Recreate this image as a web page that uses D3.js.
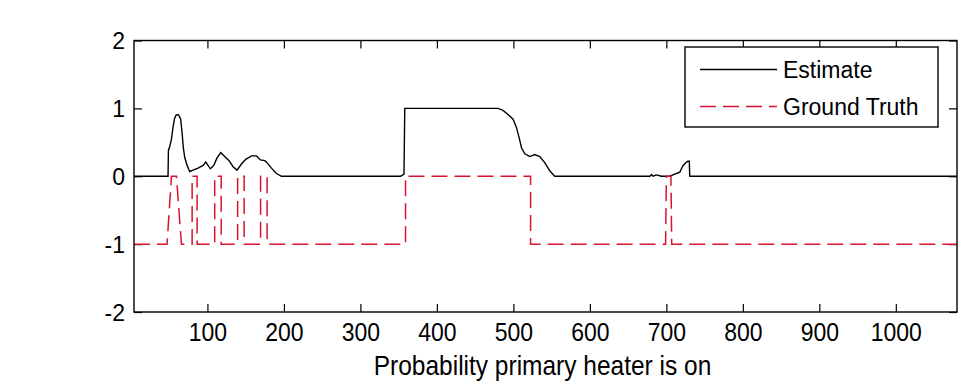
<!DOCTYPE html>
<html>
<head>
<meta charset="utf-8">
<script src="https://cdn.jsdelivr.net/npm/d3@7"></script>
<style>
  body { margin: 0; background: #fff; }
  text { font-family: "Liberation Sans", Arial, sans-serif; fill: #000; }
</style>
</head>
<body>
<svg id="chart" width="967" height="384"></svg>
<script>
// series, [sample, value]
const estimate = [
  [4, 0], [48.5, 0], [49, 0.38], [51, 0.45], [53, 0.55], [55, 0.72], [57, 0.85], [59, 0.9],
  [61.5, 0.91], [63, 0.89], [65, 0.84], [67, 0.62], [68.5, 0.42], [70.3, 0.28], [73.4, 0.16],
  [76.9, 0.07], [81.2, 0.09], [87.7, 0.12], [94.3, 0.16], [97.8, 0.21], [100.8, 0.16],
  [103.9, 0.11], [108.3, 0.16], [112.6, 0.27], [117.4, 0.35], [122.6, 0.29], [128.3, 0.23],
  [133.5, 0.14], [138.7, 0.09], [144.5, 0.18], [150.1, 0.25], [157.6, 0.3], [164.1, 0.3],
  [169.3, 0.24], [175, 0.23], [178, 0.2], [183.7, 0.12], [190.2, 0.04], [196.8, 0],
  [352.5, 0], [357, 0.03], [358, 1], [480, 1], [486.5, 0.97], [493, 0.91], [499.6, 0.84],
  [504, 0.72], [507.5, 0.57], [510.6, 0.42], [514.9, 0.33], [521.4, 0.29], [527.9, 0.32],
  [534.5, 0.29], [541, 0.2], [547.6, 0.08], [554, 0], [678.4, 0], [680.6, 0.025], [682.7, 0],
  [687.1, 0.02], [693.6, 0], [704.5, 0], [711, 0.03], [717.6, 0.06], [721.9, 0.16],
  [725.4, 0.2], [728, 0.22], [730, 0.22], [730.6, 0], [1080, 0]
];
const groundTruth = [
  [4, -1], [47.2, -1], [53, 0], [59.5, 0], [66, -1], [80, -1], [80, 0], [86.5, 0], [86.5, -1],
  [109.5, -1], [109.5, 0], [118, 0], [118, -1], [139.5, -1], [139.5, 0], [148, 0], [148, -1],
  [169.5, -1], [169.5, 0], [178, 0], [178, -1], [359, -1], [359, 0], [522.5, 0], [522.5, -1],
  [699, -1], [700, 0], [706, 0], [707, -1], [1080, -1]
];
const xTicks = [100, 200, 300, 400, 500, 600, 700, 800, 900, 1000];
const yTicks = [-2, -1, 0, 1, 2];
const seriesNames = ["Estimate", "Ground Truth"];
const xLabel = "Probability primary heater is on";

const svg = d3.select("#chart");
const pLeft = 134, pRight = 957, pTop = 40.5, pBottom = 312;
const RED = "#d8132e";
const plain = d => String(d);

const x = d3.scaleLinear().domain([4, 1080]).range([pLeft, pRight]);
const y = d3.scaleLinear().domain([-2, 2]).range([pBottom, pTop]);

svg.append("clipPath").attr("id", "plot-clip")
  .append("rect").attr("x", pLeft).attr("y", pTop)
  .attr("width", pRight - pLeft).attr("height", pBottom - pTop);

// Axes (MATLAB style: ticks inward on all four sides)
const gx = svg.append("g").attr("transform", `translate(0, ${pBottom})`)
  .call(d3.axisBottom(x).tickValues(xTicks).tickFormat(plain).tickSizeInner(-8).tickSizeOuter(0));
gx.selectAll(".tick text")
  .attr("y", null).attr("dy", null)
  .attr("font-size", "23px")
  .attr("transform", "translate(0, 29) scale(1, 1.15)");

svg.append("g").attr("transform", `translate(0, ${pTop})`)
  .call(d3.axisTop(x).tickValues(xTicks).tickSizeInner(-8).tickSizeOuter(0).tickFormat(""));

const gy = svg.append("g").attr("transform", `translate(${pLeft}, 0)`)
  .call(d3.axisLeft(y).tickValues(yTicks).tickFormat(plain).tickSizeInner(-8).tickSizeOuter(0).tickPadding(9));
gy.selectAll(".tick text").attr("font-size", "23px").attr("dy", "0.36em");

svg.append("g").attr("transform", `translate(${pRight}, 0)`)
  .call(d3.axisRight(y).tickValues(yTicks).tickSizeInner(-8).tickSizeOuter(0).tickFormat(""));

svg.selectAll(".domain").remove();
svg.selectAll(".tick line").attr("stroke", "#000").attr("stroke-width", 1.2);

// Lines
const line = d3.line().x(d => x(d[0])).y(d => y(d[1]));
const plot = svg.append("g").attr("clip-path", "url(#plot-clip)");
plot.append("path").datum(estimate)
  .attr("fill", "none").attr("stroke", "#000").attr("stroke-width", 1.4)
  .attr("d", line);
plot.append("path").datum(groundTruth)
  .attr("fill", "none").attr("stroke", RED).attr("stroke-width", 1.5)
  .attr("stroke-dasharray", "16,7")
  .attr("d", line);

// box
svg.append("rect")
  .attr("x", pLeft).attr("y", pTop).attr("width", pRight - pLeft).attr("height", pBottom - pTop)
  .attr("fill", "none").attr("stroke", "#000").attr("stroke-width", 1.4);

// x label
svg.append("text")
  .attr("text-anchor", "middle").attr("font-size", "24.5px")
  .attr("transform", `translate(${(pLeft + pRight) / 2 - 3}, 375) scale(1, 1.12)`)
  .text(xLabel);

// Legend
const lg = svg.append("g").attr("transform", "translate(685, 47)");
lg.append("rect").attr("width", 253).attr("height", 80)
  .attr("fill", "#fff").attr("stroke", "#000").attr("stroke-width", 1.4);
const styles = [
  { stroke: "#000", dash: null },
  { stroke: RED, dash: "16,7" }
];
seriesNames.forEach((name, i) => {
  const cy = 22.5 + i * 37;
  lg.append("line").attr("x1", 15).attr("x2", 92).attr("y1", cy).attr("y2", cy)
    .attr("stroke", styles[i].stroke).attr("stroke-width", 1.4)
    .attr("stroke-dasharray", styles[i].dash);
  lg.append("text").attr("x", 98).attr("y", cy).attr("dy", "0.36em")
    .attr("font-size", "23px").text(name);
});
</script>
</body>
</html>
